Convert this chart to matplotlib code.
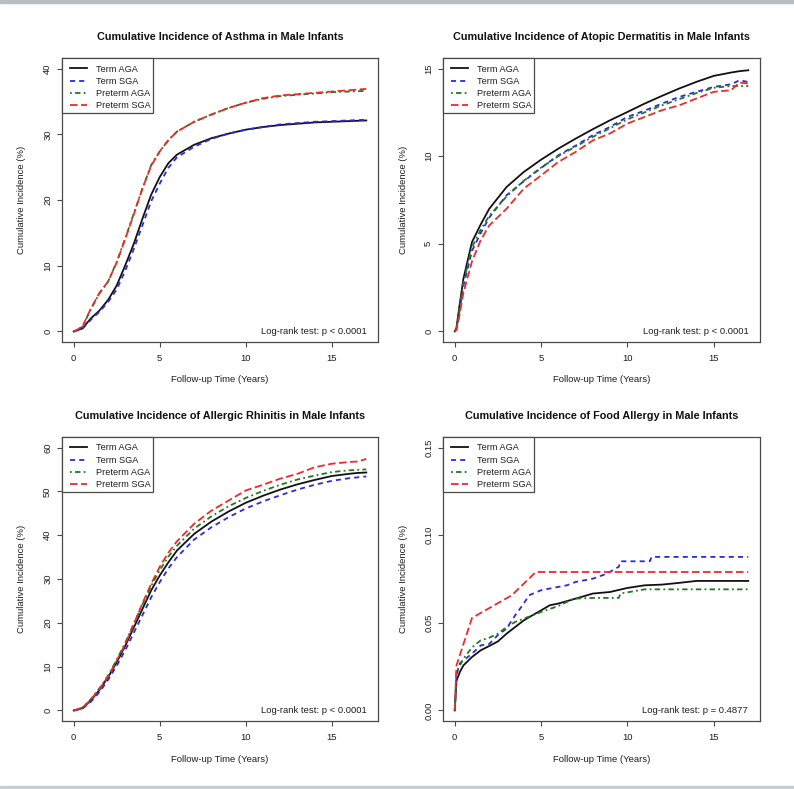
import matplotlib
matplotlib.use("Agg")
import matplotlib.pyplot as plt
from matplotlib.patches import Rectangle

plt.rcParams['font.family'] = ['Liberation Sans', 'DejaVu Sans']

series_names = ["Term AGA", "Term SGA", "Preterm AGA", "Preterm SGA"]
colors = ["#111111", "#2a2ae0", "#1f7a1f", "#ee2a2a"]
dashes = [None, (2.8, 2.3), (1, 1.8, 3, 1.8), (4.2, 1.9)]

# ---------- Asthma ----------
asthma_t = [0, 0.5, 1, 1.5, 2, 2.5, 3, 3.5, 4, 4.5, 5, 5.5, 6, 7, 8, 9, 10, 11, 12, 13, 14, 15, 16, 17]
asthma_term_aga = [0, 0.45, 2.0, 3.2, 4.8, 7.0, 10.1, 13.4, 17.2, 20.8, 23.5, 25.6, 26.9, 28.4, 29.4, 30.1, 30.7, 31.1, 31.4, 31.6, 31.8, 31.9, 32.0, 32.1]
asthma_term_sga = [0, 0.4, 1.8, 3.0, 4.5, 6.4, 9.3, 12.6, 16.2, 19.8, 22.5, 24.9, 26.5, 28.1, 29.3, 30.1, 30.7, 31.1, 31.5, 31.7, 31.9, 32.0, 32.1, 32.2]
asthma_preterm_aga = [0, 0.7, 3.4, 5.8, 7.6, 10.6, 14.2, 18.0, 21.8, 25.3, 27.4, 29.1, 30.4, 31.9, 33.0, 34.0, 34.8, 35.4, 35.8, 36.0, 36.2, 36.4, 36.5, 36.6]
asthma_preterm_sga = [0, 0.7, 3.5, 5.9, 7.6, 10.5, 14.1, 17.9, 21.8, 25.2, 27.4, 29.1, 30.4, 31.9, 33.0, 34.0, 34.8, 35.5, 35.9, 36.1, 36.3, 36.5, 36.7, 36.9]

# ---------- Atopic dermatitis ----------
ad_t = [0, 0.1, 0.25, 0.5, 1, 1.5, 2, 3, 4, 5, 6, 7, 8, 9, 10, 11, 12, 13, 14, 15, 16, 16.5, 17]
ad_term_aga = [0, 0.2, 1.3, 3.0, 5.1, 6.1, 7.0, 8.24, 9.1, 9.8, 10.43, 11.0, 11.54, 12.05, 12.52, 13.0, 13.44, 13.86, 14.24, 14.58, 14.77, 14.85, 14.9]
ad_term_sga = [0, 0.15, 1.0, 2.6, 4.6, 5.6, 6.5, 7.77, 8.57, 9.33, 10.05, 10.6, 11.2, 11.67, 12.24, 12.6, 13.0, 13.38, 13.67, 13.95, 14.1, 14.33, 14.23]
ad_preterm_aga = [0, 0.15, 1.1, 2.8, 4.8, 5.8, 6.6, 7.7, 8.6, 9.35, 10.0, 10.55, 11.1, 11.6, 12.1, 12.5, 12.9, 13.25, 13.6, 13.9, 14.0, 14.0, 14.0]
ad_preterm_sga = [0, 0.1, 0.8, 2.2, 4.0, 5.2, 6.05, 7.0, 8.15, 8.9, 9.67, 10.24, 10.9, 11.3, 11.86, 12.24, 12.62, 12.9, 13.29, 13.67, 13.76, 14.2, 14.14]

# ---------- Allergic rhinitis ----------
ar_t = [0, 0.5, 1, 1.5, 2, 2.5, 3, 3.5, 4, 4.5, 5, 5.5, 6, 7, 8, 9, 10, 11, 12, 13, 14, 15, 16, 16.5, 17]
ar_term_aga = [0, 0.5, 2.3, 4.7, 7.6, 11.0, 14.8, 19.0, 23.2, 27.4, 30.8, 33.8, 36.5, 40.3, 43.1, 45.4, 47.4, 49.0, 50.4, 51.6, 52.6, 53.5, 54.0, 54.2, 54.3]
ar_term_sga = [0, 0.4, 2.0, 4.2, 7.0, 10.2, 13.8, 17.8, 21.8, 25.8, 29.3, 32.4, 35.0, 39.0, 41.8, 44.1, 46.1, 47.7, 49.1, 50.4, 51.5, 52.4, 53.0, 53.2, 53.4]
ar_preterm_aga = [0, 0.6, 2.6, 5.1, 8.0, 11.6, 15.5, 19.9, 24.2, 28.4, 32.0, 35.1, 37.6, 41.5, 44.3, 46.6, 48.5, 50.1, 51.5, 52.7, 53.6, 54.4, 54.8, 54.9, 55.0]
ar_preterm_sga = [0, 0.6, 2.5, 4.9, 7.8, 11.4, 15.2, 19.8, 24.5, 28.9, 32.8, 36.0, 38.6, 42.6, 45.6, 47.9, 50.2, 51.5, 52.9, 54.0, 55.5, 56.3, 56.7, 56.8, 57.4]

# ---------- Food allergy ----------
fa_term_aga_t = [0, 0.05, 0.1, 0.3, 0.5, 1, 1.5, 2, 2.5, 3, 3.5, 4, 4.5, 5, 5.5, 6, 7, 8, 9, 10, 11, 12, 13, 14, 17]
fa_term_aga = [0, 0.008, 0.017, 0.022, 0.0257, 0.0305, 0.0343, 0.0368, 0.0394, 0.0438, 0.0476, 0.0514, 0.0543, 0.0571, 0.0600, 0.0610, 0.0638, 0.0667, 0.0676, 0.0699, 0.0714, 0.0718, 0.0728, 0.0739, 0.0739]
fa_term_sga_t = [0, 0.1, 0.3, 1, 1.5, 2, 2.5, 3, 3.5, 4, 4.3, 5, 6, 6.5, 7, 8, 8.8, 9.5, 9.6, 11.3, 11.4, 17]
fa_term_sga = [0, 0.020, 0.027, 0.0324, 0.0371, 0.038, 0.043, 0.0467, 0.0543, 0.0610, 0.0657, 0.0686, 0.0705, 0.0714, 0.0733, 0.0752, 0.0780, 0.0820, 0.0851, 0.0851, 0.0876, 0.0876]
fa_preterm_aga_t = [0, 0.1, 0.5, 1, 1.5, 2, 2.5, 3, 3.5, 4, 5, 6, 6.9, 8, 9.5, 9.6, 11, 17]
fa_preterm_aga = [0, 0.022, 0.0295, 0.036, 0.040, 0.0415, 0.0438, 0.0476, 0.0505, 0.0524, 0.0562, 0.0596, 0.0638, 0.0642, 0.0642, 0.0667, 0.0691, 0.0691]
fa_preterm_sga_t = [0, 0.1, 1, 3.3, 4.7, 17]
fa_preterm_sga = [0, 0.0257, 0.0528, 0.0657, 0.079, 0.079]

panels = [
    dict(title="Cumulative Incidence of Asthma in Male Infants",
         data=[(asthma_t, asthma_term_aga), (asthma_t, asthma_term_sga),
               (asthma_t, asthma_preterm_aga), (asthma_t, asthma_preterm_sga)],
         ylim=(0, 40), yticks=[0, 10, 20, 30, 40], fmt="{:g}",
         ptext="Log-rank test: p < 0.0001"),
    dict(title="Cumulative Incidence of Atopic Dermatitis in Male Infants",
         data=[(ad_t, ad_term_aga), (ad_t, ad_term_sga),
               (ad_t, ad_preterm_aga), (ad_t, ad_preterm_sga)],
         ylim=(0, 15), yticks=[0, 5, 10, 15], fmt="{:g}",
         ptext="Log-rank test: p < 0.0001"),
    dict(title="Cumulative Incidence of Allergic Rhinitis in Male Infants",
         data=[(ar_t, ar_term_aga), (ar_t, ar_term_sga),
               (ar_t, ar_preterm_aga), (ar_t, ar_preterm_sga)],
         ylim=(0, 60), yticks=[0, 10, 20, 30, 40, 50, 60], fmt="{:g}",
         ptext="Log-rank test: p < 0.0001"),
    dict(title="Cumulative Incidence of Food Allergy in Male Infants",
         data=[(fa_term_aga_t, fa_term_aga), (fa_term_sga_t, fa_term_sga),
               (fa_preterm_aga_t, fa_preterm_aga), (fa_preterm_sga_t, fa_preterm_sga)],
         ylim=(0, 0.15), yticks=[0, 0.05, 0.10, 0.15], fmt="{:.2f}",
         ptext="Log-rank test: p = 0.4877"),
]

W, H = 794, 789
fig = plt.figure(figsize=(W / 100, H / 100), dpi=100)
fig.patches.append(Rectangle((0, 1 - 3 / H), 1, 3 / H, transform=fig.transFigure,
                             color="#b7bec6", zorder=0))
fig.patches.append(Rectangle((0, 0), 1, 3 / H, transform=fig.transFigure,
                             color="#c9ced4", zorder=0))

boxes = [(62, 378, 58, 342), (443, 760, 58, 342), (62, 378, 437, 721), (443, 760, 437, 721)]
fs = 6.8
lfs = 6.6
tc = "#1e1e1e"
edge = "#4a4a4a"
for p, (l, r, t, b) in zip(panels, boxes):
    ax = fig.add_axes([l / W, 1 - b / H, (r - l) / W, (b - t) / H])
    for (tt, yy), name, c, d in zip(p["data"], series_names, colors, dashes):
        line, = ax.plot(tt, yy, color=c, lw=1.3, label=name)
        if d:
            line.set_dashes(d)
    y0, y1 = p["ylim"]
    ext = 0.04 * (y1 - y0)
    ax.set_ylim(y0 - ext, y1 + ext)
    ax.set_xlim(-0.04 * 17, 17 * 1.04)
    ax.set_xticks([0, 5, 10, 15])
    ax.set_yticks(p["yticks"])
    ax.set_yticklabels([p["fmt"].format(v) for v in p["yticks"]], rotation=90, va="center")
    ax.tick_params(axis="both", direction="out", length=3.6, width=0.8, color=edge,
                   labelsize=fs, labelcolor=tc)
    ax.tick_params(axis="x", pad=5)
    ax.tick_params(axis="y", pad=3.5)
    for s in ax.spines.values():
        s.set_color(edge)
        s.set_linewidth(0.9)
    ax.set_xlabel("Follow-up Time (Years)", fontsize=fs, color=tc, va="center")
    ax.xaxis.set_label_coords(0.5, -38 / (b - t))
    ax.set_ylabel("Cumulative Incidence (%)", fontsize=fs, color=tc, va="center")
    ax.yaxis.set_label_coords(-40 / (r - l), 0.5)
    ax.text(17, 0, p["ptext"], ha="right", va="center", fontsize=fs, color=tc)
    fig.text((l + r) / 2 / W, 1 - (t - 21) / H, p["title"], ha="center", va="center",
             fontsize=7.8, fontweight="bold", color="#111111")
    # legend frame drawn as a box in the top-left corner, entries placed inside it
    ax.add_patch(Rectangle((l / W, 1 - (t + 55) / H), 91 / W, 55 / H,
                           transform=fig.transFigure, facecolor="white",
                           edgecolor=edge, linewidth=0.9, zorder=5, clip_on=False))
    leg = ax.legend(loc="upper left", bbox_to_anchor=((l + 8) / W, 1 - (t + 6.5) / H),
                    bbox_transform=fig.transFigure, borderaxespad=0, borderpad=0,
                    fontsize=lfs, frameon=False, handlelength=1.85,
                    handletextpad=0.95, labelspacing=0.36)
    leg.set_zorder(6)
    for txt in leg.get_texts():
        txt.set_color(tc)

fig.savefig("out.png", dpi=100)
